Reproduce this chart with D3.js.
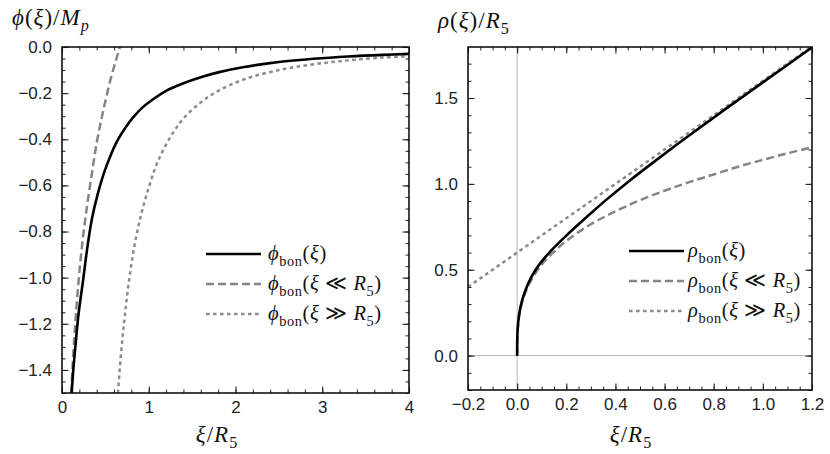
<!DOCTYPE html>
<html>
<head>
<meta charset="utf-8">
<script src="https://cdn.jsdelivr.net/npm/d3@7"></script>
<style>
  body { margin: 0; background: #fff; }
  .math { font-family: "Liberation Serif", "DejaVu Serif", serif; fill: #111; }
</style>
</head>
<body>
<svg id="chart"></svg>
<script>
const svgWidth = 830;
const svgHeight = 454;

// left panel: phi(xi)/M_p
const phiXTicks = [0, 1, 2, 3, 4];
const phiYTicks = [0, -0.2, -0.4, -0.6, -0.8, -1.0, -1.2, -1.4];
const phiSolid = [[0.112,-1.50],[0.13,-1.40],[0.154,-1.30],[0.19,-1.16],[0.24,-1.02],[0.29,-0.875],
  [0.345,-0.745],[0.41,-0.64],[0.48,-0.55],[0.56,-0.47],[0.64,-0.405],[0.73,-0.35],[0.82,-0.305],
  [0.92,-0.265],[1.03,-0.232],[1.2,-0.19],[1.4,-0.157],[1.6,-0.131],[1.8,-0.11],[2.1,-0.087],
  [2.5,-0.065],[2.9,-0.051],[3.3,-0.041],[3.7,-0.034],[4.0,-0.03]];
const phiSmall = [[0.106,-1.5],[0.12,-1.40],[0.14,-1.27],[0.16,-1.16],[0.19,-1.02],[0.22,-0.90],
  [0.26,-0.77],[0.30,-0.66],[0.35,-0.535],[0.40,-0.415],[0.45,-0.32],[0.50,-0.235],[0.56,-0.14],
  [0.62,-0.06],[0.668,0.0]];
const phiLarge = [[0.645,-1.50],[0.68,-1.33],[0.72,-1.18],[0.76,-1.05],[0.82,-0.895],[0.9,-0.745],
  [1.0,-0.61],[1.1,-0.5],[1.25,-0.39],[1.4,-0.31],[1.6,-0.24],[1.8,-0.19],[2.1,-0.14],[2.5,-0.1],
  [2.9,-0.075],[3.3,-0.058],[3.7,-0.046],[4.0,-0.04]];

// right panel: rho(xi)/R_5
const rhoXTicks = [-0.2, 0, 0.2, 0.4, 0.6, 0.8, 1.0, 1.2];
const rhoYTicks = [0, 0.5, 1.0, 1.5];
const rhoSolid = [[0,0],[0.0003,0.08],[0.0012,0.13],[0.004,0.19],[0.01,0.255],[0.02,0.32],
  [0.035,0.385],[0.055,0.45],[0.08,0.51],[0.1,0.549],[0.13,0.599],[0.15,0.629],[0.2,0.699],
  [0.25,0.765],[0.3,0.829],[0.36,0.904],[0.45,1.01],[0.55,1.121],[0.7,1.282],[0.85,1.438],
  [1.0,1.591],[1.2,1.795]];
const rhoSmall = [[0,0],[0.001,0.115],[0.005,0.195],[0.01,0.247],[0.02,0.31],[0.05,0.42],[0.1,0.53],
  [0.15,0.605],[0.2,0.668],[0.3,0.765],[0.4,0.84],[0.5,0.905],[0.6,0.96],[0.7,1.01],[0.8,1.055],
  [0.9,1.10],[1.0,1.14],[1.1,1.178],[1.2,1.213]];
const rhoLarge = [[-0.2,0.4],[1.2,1.8]];

const svg = d3.select("#chart").attr("width", svgWidth).attr("height", svgHeight);

const styles = {
    solid: { stroke: "#000", width: 2.6, dash: null },
    small: { stroke: "#858585", width: 2.5, dash: "8,4" },
    large: { stroke: "#8c8c8c", width: 2.5, dash: "3.6,3.4" }
};

// math text helper: segments [text, kind] kind: "i" italic, "r" roman, "s" subscript roman, "si" subscript italic
function mathText(g, x, y, size, segs, anchor, spacing) {
    const t = g.append("text").attr("class", "math").attr("x", x).attr("y", y)
        .attr("font-size", size).attr("text-anchor", anchor || "start")
        .style("letter-spacing", (spacing || 0) + "px");
    let shifted = false;
    segs.forEach(([s, k]) => {
        const sp = t.append("tspan").text(s);
        const sub = k === "s" || k === "si";
        if (k === "i" || k === "si") sp.attr("font-style", "italic");
        if (sub) sp.attr("font-size", size * 0.7);
        if (sub && !shifted) { sp.attr("dy", size * 0.27); shifted = true; }
        else if (!sub && shifted) { sp.attr("dy", -size * 0.27); shifted = false; }
    });
    return t;
}

function drawPanel(p) {
    const x = d3.scaleLinear().domain(p.xDomain).range([p.x0, p.x1]);
    const y = d3.scaleLinear().domain(p.yDomain).range([p.y1, p.y0]);
    const g = svg.append("g");

    const clipId = "clip-" + p.name;
    svg.append("clipPath").attr("id", clipId).append("rect")
        .attr("x", p.x0).attr("y", p.y0).attr("width", p.x1 - p.x0).attr("height", p.y1 - p.y0);

    // thin axes through origin (Mathematica style)
    if (p.axes) {
        g.append("line").attr("x1", x(0)).attr("x2", x(0)).attr("y1", p.y0).attr("y2", p.y1)
            .attr("stroke", "#b5b5b5").attr("stroke-width", 1);
        g.append("line").attr("x1", p.x0).attr("x2", p.x1).attr("y1", y(0)).attr("y2", y(0))
            .attr("stroke", "#b5b5b5").attr("stroke-width", 1);
    }

    const line = d3.line().x(d => x(d[0])).y(d => y(d[1])).curve(d3.curveCatmullRom.alpha(0.5));
    const curves = g.append("g").attr("clip-path", `url(#${clipId})`);
    [["large", p.large], ["small", p.small], ["solid", p.solid]].forEach(([k, data]) => {
        const s = styles[k];
        curves.append("path").datum(data).attr("d", line)
            .attr("fill", "none").attr("stroke", s.stroke).attr("stroke-width", s.width)
            .attr("stroke-dasharray", s.dash);
    });

    // ticks, inward on all four sides
    const minorX = d3.range(p.xDomain[0], p.xDomain[1] + 1e-9, p.xMinor);
    const minorY = d3.range(p.yDomain[0], p.yDomain[1] + 1e-9, p.yMinor);
    const axes = [
        [d3.axisBottom(x), `translate(0,${p.y1})`, p.xTicks, minorX, true],
        [d3.axisTop(x), `translate(0,${p.y0})`, p.xTicks, minorX, false],
        [d3.axisLeft(y), `translate(${p.x0},0)`, p.yTicks, minorY, true],
        [d3.axisRight(y), `translate(${p.x1},0)`, p.yTicks, minorY, false]
    ];
    axes.forEach(([ax, tr, major, minor, labels], i) => {
        const isX = i < 2;
        g.append("g").attr("transform", tr)
            .call(ax.tickValues(minor).tickSize(-3.5).tickFormat(""))
            .call(a => a.select(".domain").remove())
            .call(a => a.selectAll("line").attr("stroke", "#222").attr("stroke-width", 1));
        const fmt = isX ? p.xFormat : p.yFormat;
        const maj = g.append("g").attr("transform", tr)
            .call(ax.tickValues(major).tickSize(-6.5).tickPadding(isX ? 8 : 10).tickFormat(labels ? fmt : ""))
            .call(a => a.select(".domain").remove())
            .call(a => a.selectAll("line").attr("stroke", "#222").attr("stroke-width", 1.1));
        maj.selectAll("text")
            .style("font-family", "'Liberation Sans', Arial, sans-serif")
            .style("font-size", "17px")
            .style("fill", "#222");
    });

    g.append("rect").attr("x", p.x0).attr("y", p.y0).attr("width", p.x1 - p.x0).attr("height", p.y1 - p.y0)
        .attr("fill", "none").attr("stroke", "#111").attr("stroke-width", 1.6);

    // legend
    const lg = g.append("g");
    p.legend.forEach((segs, i) => {
        const k = ["solid", "small", "large"][i];
        const s = styles[k];
        const ly = p.legendY + i * 30;
        lg.append("line").attr("x1", p.legendX).attr("x2", p.legendX + 55).attr("y1", ly).attr("y2", ly)
            .attr("stroke", s.stroke).attr("stroke-width", s.width).attr("stroke-dasharray", s.dash);
        mathText(lg, p.legendX + p.legendGap, ly + 6, 20.5, segs, "start", 0.6);
    });

    mathText(g, p.yLabelX, p.yLabelY, 23, p.yLabel, "start", 1);
    mathText(g, p.xLabelX, 442, 23, [["ξ", "i"], ["/", "r"], ["R", "i"], ["5", "s"]], "middle", 1);
}

const fmtMinus = d3.format(".1f");

drawPanel({
    name: "phi", x0: 62, x1: 409, y0: 47, y1: 393,
    xDomain: [0, 4], yDomain: [-1.5, 0], xMinor: 0.2, yMinor: 0.05,
    xTicks: phiXTicks, yTicks: phiYTicks,
    xFormat: d3.format("d"), yFormat: fmtMinus,
    solid: phiSolid, small: phiSmall, large: phiLarge, axes: false,
    legendX: 206, legendY: 254, legendGap: 62,
    legend: [
        [["ϕ", "i"], ["bon", "s"], ["(", "r"], ["ξ", "i"], [")", "r"]],
        [["ϕ", "i"], ["bon", "s"], ["(", "r"], ["ξ", "i"], [" ≪ ", "r"], ["R", "i"], ["5", "s"], [")", "r"]],
        [["ϕ", "i"], ["bon", "s"], ["(", "r"], ["ξ", "i"], [" ≫ ", "r"], ["R", "i"], ["5", "s"], [")", "r"]]
    ],
    yLabelX: 12, yLabelY: 25,
    yLabel: [["ϕ", "i"], ["(", "r"], ["ξ", "i"], [")/", "r"], ["M", "i"], ["p", "si"]],
    xLabelX: 217
});

drawPanel({
    name: "rho", x0: 468, x1: 812, y0: 47, y1: 390,
    xDomain: [-0.2, 1.2], yDomain: [-0.2, 1.797], xMinor: 0.05, yMinor: 0.1,
    xTicks: rhoXTicks, yTicks: rhoYTicks,
    xFormat: fmtMinus, yFormat: fmtMinus,
    solid: rhoSolid, small: rhoSmall, large: rhoLarge, axes: true,
    legendX: 629, legendY: 251, legendGap: 59,
    legend: [
        [["ρ", "i"], ["bon", "s"], ["(", "r"], ["ξ", "i"], [")", "r"]],
        [["ρ", "i"], ["bon", "s"], ["(", "r"], ["ξ", "i"], [" ≪ ", "r"], ["R", "i"], ["5", "s"], [")", "r"]],
        [["ρ", "i"], ["bon", "s"], ["(", "r"], ["ξ", "i"], [" ≫ ", "r"], ["R", "i"], ["5", "s"], [")", "r"]]
    ],
    yLabelX: 438, yLabelY: 28,
    yLabel: [["ρ", "i"], ["(", "r"], ["ξ", "i"], [")/", "r"], ["R", "i"], ["5", "s"]],
    xLabelX: 631
});
</script>
</body>
</html>
